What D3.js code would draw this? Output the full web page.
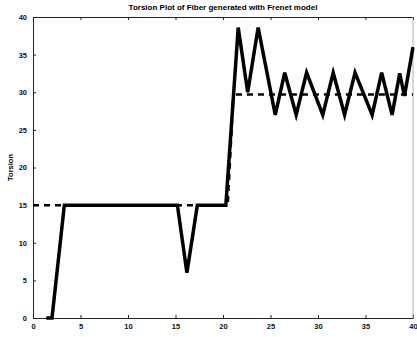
<!DOCTYPE html>
<html>
<head>
<meta charset="utf-8">
<script src="https://cdn.jsdelivr.net/npm/d3@7"></script>
<style>
body { margin: 0; background: #fff; }
text { font-family: "Liberation Sans", Arial, sans-serif; }
</style>
</head>
<body>
<div id="chart"></div>
<script>
var svgWidth = 417;
var svgHeight = 337;
var margin = { top: 17, right: 4, bottom: 19, left: 33 };

var width = svgWidth - margin.left - margin.right;
var height = svgHeight - margin.top - margin.bottom;

// data
var solidX = [1.4, 2, 3.3, 15.2, 16.2, 17.3, 20.3, 21.6, 22.6, 23.7, 25.5, 26.5, 27.7, 28.8, 30.5, 31.6, 32.8, 33.9, 35.7, 36.7, 37.8, 38.6, 39.1, 40];
var solidY = [0, 0, 15, 15, 6, 15, 15, 38.6, 30, 38.6, 27, 32.6, 27, 32.6, 27, 32.6, 27, 32.6, 27, 32.6, 27, 32.5, 29.5, 36];
var dashX = [0, 20.5, 21.1, 40];
var dashY = [15, 15, 29.7, 29.7];
var xTicks = [0, 5, 10, 15, 20, 25, 30, 35, 40];
var yTicks = [0, 5, 10, 15, 20, 25, 30, 35, 40];

var svg = d3.select("#chart").append("svg").attr("width", svgWidth).attr("height", svgHeight);
var chartGroup = svg.append("g").attr("transform", `translate(${margin.left},${margin.top})`);

var xScale = d3.scaleLinear().domain([0, 40]).range([0, width]);
var yScale = d3.scaleLinear().domain([0, 40]).range([height, 0]);

// axes, ticks pointing inward like matlab
var bottomAxis = d3.axisBottom(xScale).tickValues(xTicks).tickSizeInner(-3).tickSizeOuter(0).tickPadding(6);
var leftAxis = d3.axisLeft(yScale).tickValues(yTicks).tickSizeInner(-3).tickSizeOuter(0).tickPadding(6);
var topAxis = d3.axisTop(xScale).tickValues(xTicks).tickSizeInner(-3).tickSizeOuter(0).tickFormat("");

var gx = chartGroup.append("g").attr("transform", `translate(0,${height})`).call(bottomAxis);
var gy = chartGroup.append("g").call(leftAxis);
var gt = chartGroup.append("g").call(topAxis);

[gx, gy, gt].forEach(function(g) {
    g.select(".domain").attr("stroke", "#222").attr("stroke-width", 1);
    g.selectAll(".tick line").attr("stroke", "#222");
    g.selectAll("text").attr("font-size", 7.5).attr("font-weight", "bold").attr("fill", "#111");
});

// right border (faint in the scan)
chartGroup.append("line")
    .attr("x1", width).attr("x2", width)
    .attr("y1", 0).attr("y2", height)
    .attr("stroke", "#999").attr("stroke-width", 0.8);

var line = d3.line().x(d => xScale(d[0])).y(d => yScale(d[1]));

var dashData = dashX.map((x, i) => [x, dashY[i]]);
var solidData = solidX.map((x, i) => [x, solidY[i]]);

chartGroup.append("path")
    .datum(dashData)
    .attr("d", line)
    .attr("fill", "none")
    .attr("stroke", "#000")
    .attr("stroke-width", 2.5)
    .attr("stroke-dasharray", "6,5");

chartGroup.append("path")
    .datum(solidData)
    .attr("d", line)
    .attr("fill", "none")
    .attr("stroke", "#000")
    .attr("stroke-width", 3.5)
    .attr("stroke-linejoin", "miter");

// title
svg.append("text")
    .attr("x", margin.left + width / 2)
    .attr("y", 10)
    .attr("text-anchor", "middle")
    .attr("font-size", 8)
    .attr("font-weight", "bold")
    .text("Torsion Plot of Fiber generated with Frenet model");

// y label
svg.append("text")
    .attr("transform", `translate(13,${margin.top + height / 2}) rotate(-90)`)
    .attr("text-anchor", "middle")
    .attr("font-size", 7.5)
    .attr("font-weight", "bold")
    .text("Torsion");
</script>
</body>
</html>
